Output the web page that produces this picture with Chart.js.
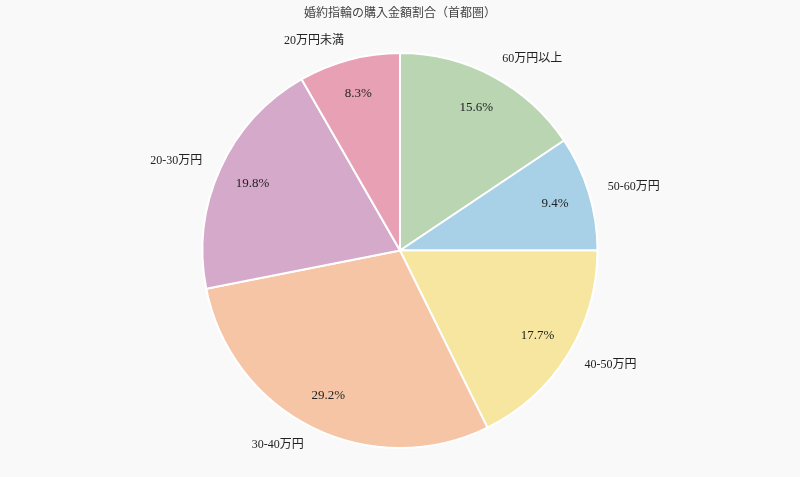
<!DOCTYPE html>
<html>
<head>
<meta charset="utf-8">
<script src="https://cdn.jsdelivr.net/npm/chart.js@4"></script>
<style>
  html, body { margin:0; padding:0; background:#f9f9f9; }
  #wrap { width:800px; height:477px; }
</style>
</head>
<body>
<div id="wrap"><canvas id="ringChart"></canvas></div>
<script>
// data
const titleText = '婚約指輪の購入金額割合（首都圏）';
const categories = ['60万円以上', '50-60万円', '40-50万円', '30-40万円', '20-30万円', '20万円未満'];
const shares = [15.6, 9.4, 17.7, 29.2, 19.8, 8.3];
const sliceColors = ['#b9d5b2', '#a8d0e7', '#f7e6a0', '#f5c5a5', '#d4a9c9', '#e8a1b4'];

const fontFamily = '"Liberation Serif", "DejaVu Serif", "Noto Sans CJK JP", serif';

// labels drawn outside / percentages inside, like the reference
const sliceText = {
    id: 'sliceText',
    afterDatasetsDraw(chart) {
        const ctx = chart.ctx;
        const meta = chart.getDatasetMeta(0);
        ctx.save();
        ctx.textBaseline = 'middle';
        ctx.fillStyle = '#222';
        meta.data.forEach((arc, i) => {
            const p = arc.getProps(['x', 'y', 'startAngle', 'endAngle', 'outerRadius'], true);
            const mid = (p.startAngle + p.endAngle) / 2;
            const cx = Math.cos(mid), cy = Math.sin(mid);

            // percentage
            ctx.font = '13px ' + fontFamily;
            ctx.textAlign = 'center';
            const pr = p.outerRadius * 0.82;
            ctx.fillText(shares[i].toFixed(1) + '%', p.x + cx * pr, p.y + cy * pr);

            // category label
            ctx.font = '12px ' + fontFamily;
            const lr = p.outerRadius * 1.1;
            ctx.textAlign = cx >= 0 ? 'left' : 'right';
            ctx.fillText(categories[i], p.x + cx * lr, p.y + cy * lr);
        });
        ctx.restore();

        // title
        ctx.save();
        ctx.font = '12px ' + fontFamily;
        ctx.fillStyle = '#444';
        ctx.textAlign = 'center';
        ctx.textBaseline = 'middle';
        ctx.fillText(titleText, chart.width / 2, 14);
        ctx.restore();
    }
};

let ringChart = new Chart(document.getElementById('ringChart').getContext('2d'), {
    type: 'pie',
    data: {
        labels: categories,
        datasets: [{
            data: shares,
            backgroundColor: sliceColors,
            borderColor: '#ffffff',
            borderWidth: 2
        }]
    },
    options: {
        responsive: true,
        maintainAspectRatio: false,
        animation: false,
        layout: { padding: { top: 52, bottom: 28 } },
        plugins: {
            legend: { display: false },
            title: { display: false },
            tooltip: { enabled: false }
        }
    },
    plugins: [sliceText]
});
</script>
</body>
</html>
